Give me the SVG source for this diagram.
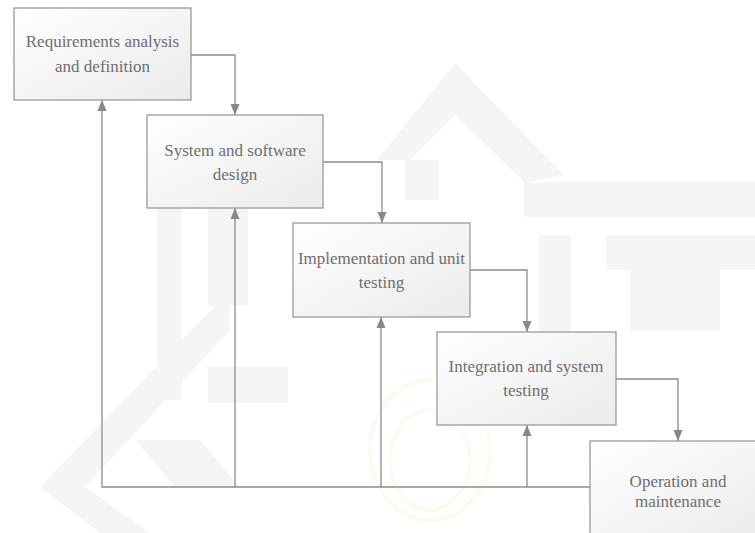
<svg xmlns="http://www.w3.org/2000/svg" width="755" height="533" viewBox="0 0 755 533">
  <defs>
    <linearGradient id="boxFill" x1="0" y1="0" x2="1" y2="1">
      <stop offset="0" stop-color="#ffffff"/>
      <stop offset="1" stop-color="#ebebeb"/>
    </linearGradient>
    <marker id="arrow" markerUnits="userSpaceOnUse" markerWidth="12" markerHeight="12" viewBox="0 0 12 12" refX="11" refY="6" orient="auto">
      <path d="M0,1.5 L11,6 L0,10.5 Z" fill="#888888"/>
    </marker>
  </defs>
  <style>
    .box { fill: url(#boxFill); stroke: #9a9a9a; stroke-width: 1.3; }
    .label { font-family: "Liberation Serif", "Times New Roman", "DejaVu Serif", serif; font-size: 17px; fill: #6e6e6e; text-anchor: middle; }
    .conn { fill: none; stroke: #8c8c8c; stroke-width: 1.3; }
    .wm { fill: #f5f5f4; }
    .wmy { fill: none; stroke: #fdfbef; stroke-width: 4; }
  </style>
  <rect width="755" height="533" fill="#ffffff"/>
  <g id="watermark">
    <polygon class="wm" points="40,487 230,290 230,330 85,487"/>
    <polygon class="wm" points="40,487 100,533 150,533 85,487"/>
    <rect class="wm" x="157" y="185" width="25" height="215"/>
    <rect class="wm" x="208" y="185" width="40" height="120"/>
    <rect class="wm" x="208" y="367" width="80" height="36"/>
    <polygon class="wm" points="135,440 200,440 240,487 175,487"/>
    <polygon class="wm" points="377,160 455,63 564,175 525,183 455,115 410,160"/>
    <rect class="wm" x="524" y="182" width="231" height="35"/>
    <rect class="wm" x="405" y="160" width="34" height="40"/>
    <rect class="wm" x="539" y="235" width="32" height="100"/>
    <rect class="wm" x="606" y="235" width="149" height="35"/>
    <rect class="wm" x="630" y="270" width="90" height="60"/>
    <polygon class="wm" points="650,460 755,460 755,520 650,520 620,490"/>
    <ellipse class="wmy" cx="430" cy="450" rx="60" ry="70"/>
    <ellipse class="wmy" cx="430" cy="460" rx="40" ry="50"/>
  </g>
  <g id="connectors">
    <polyline class="conn" points="191,55 235,55 235,115" marker-end="url(#arrow)"/>
    <polyline class="conn" points="323,162 382,162 382,223" marker-end="url(#arrow)"/>
    <polyline class="conn" points="470,270 527,270 527,332" marker-end="url(#arrow)"/>
    <polyline class="conn" points="616,379 678,379 678,441" marker-end="url(#arrow)"/>
    <polyline class="conn" points="590,487 102,487 102,100" marker-end="url(#arrow)"/>
    <polyline class="conn" points="235,487 235,208" marker-end="url(#arrow)"/>
    <polyline class="conn" points="381,487 381,317" marker-end="url(#arrow)"/>
    <polyline class="conn" points="527,487 527,425" marker-end="url(#arrow)"/>
  </g>
  <g id="node-requirements">
    <rect class="box" x="14" y="8" width="177" height="92"/>
    <text class="label" x="102.5" y="47">Requirements analysis</text>
    <text class="label" x="102.5" y="72">and definition</text>
  </g>
  <g id="node-design">
    <rect class="box" x="147" y="115" width="176" height="93"/>
    <text class="label" x="235" y="156">System and software</text>
    <text class="label" x="235" y="180">design</text>
  </g>
  <g id="node-implementation">
    <rect class="box" x="293" y="223" width="177" height="94"/>
    <text class="label" x="381.5" y="264">Implementation and unit</text>
    <text class="label" x="381.5" y="288">testing</text>
  </g>
  <g id="node-integration">
    <rect class="box" x="437" y="332" width="179" height="93"/>
    <text class="label" x="526" y="372">Integration and system</text>
    <text class="label" x="526" y="396">testing</text>
  </g>
  <g id="node-operation">
    <rect class="box" x="590" y="441" width="175" height="100"/>
    <text class="label" x="678" y="487">Operation and</text>
    <text class="label" x="678" y="507">maintenance</text>
  </g>
</svg>
